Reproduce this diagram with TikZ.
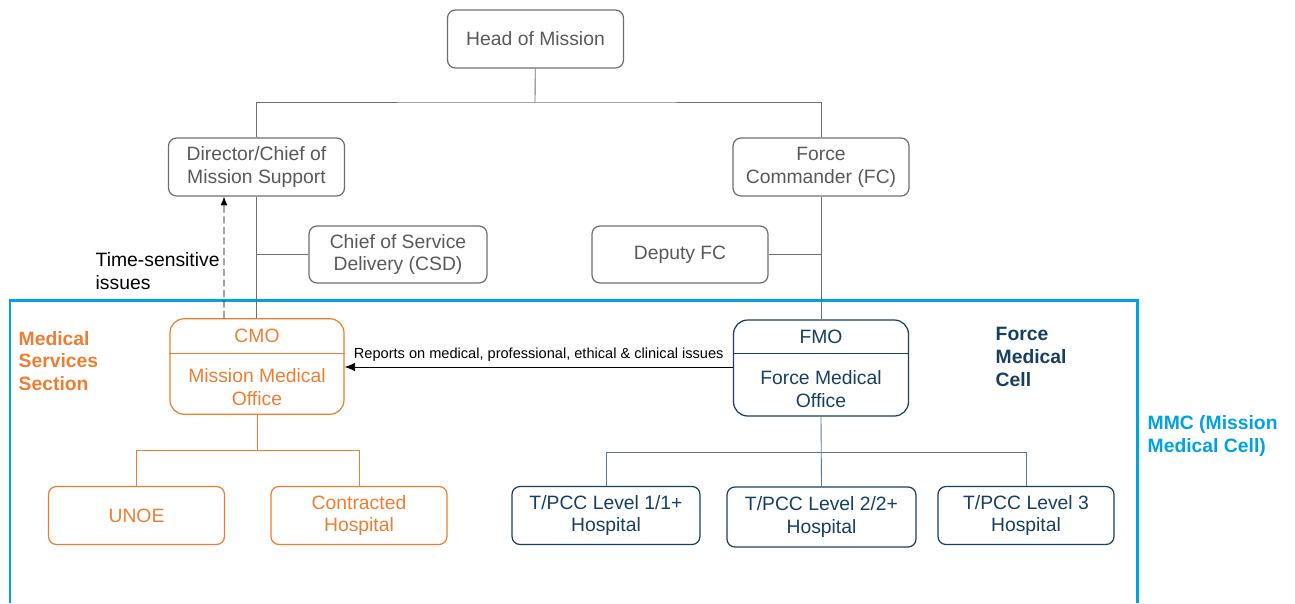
\documentclass[tikz,border=0pt]{standalone}
\usepackage{fontspec}
\setmainfont{Liberation Sans}
\usetikzlibrary{arrows.meta}

\definecolor{txtgray}{HTML}{595959}
\definecolor{boxgray}{HTML}{6E6E6E}
\definecolor{msorange}{HTML}{ED7D31}
\definecolor{fmcnavy}{HTML}{173F5F}
\definecolor{mmcblue}{HTML}{00A2DF}

\newcommand{\orgfont}{\fontsize{11}{13}\selectfont}
\newcommand{\smallorgfont}{\fontsize{8.3}{10}\selectfont}

\tikzset{
  orgbox/.style={draw=boxgray, line width=0.7pt, rounded corners=4.5pt, text=txtgray,
    font=\orgfont, align=center, inner sep=0pt, minimum width=3.52cm, minimum height=1.16cm},
  medbox/.style={orgbox, draw=#1, text=#1},
  officebox/.style={draw=#1, line width=0.7pt, rounded corners=8pt,
    inner sep=0pt, minimum width=3.5cm, minimum height=1.91cm},
  celltitle/.style={font=\orgfont\bfseries, text=#1, align=left, anchor=west},
  link/.style={draw=boxgray, line width=0.5pt},
}

\begin{document}
\begin{tikzpicture}[x=0.02cm, y=-0.02cm]
  \useasboundingbox (0,0) rectangle (1295,603);

  % mission medical cell frame
  \draw[mmcblue, line width=1.7pt] (10,603) -- (10,300) -- (1137,300) -- (1137,603);

  % top of the mission
  \node[orgbox] (hom) at (535.5,39) {Head of Mission};
  \node[orgbox] (dir) at (256.5,167) {Director/Chief of\\Mission Support};
  \node[orgbox] (fc) at (821,167) {Force\\Commander (FC)};
  \node[orgbox, minimum width=3.56cm, minimum height=1.14cm] (csd) at (398,254.5) {Chief of Service\\Delivery (CSD)};
  \node[orgbox, minimum height=1.14cm] (dfc) at (680,254.5) {Deputy FC};

  \coordinate (topbus) at (535,102);
  \draw[link] (hom) -- (topbus);
  \draw[link] (dir.north) |- (topbus) -| (fc.north);

  % medical offices
  \node[officebox=msorange, minimum width=3.48cm] (cmo) at (257,366.5) {};
  \node[text=msorange, font=\orgfont] (cmohead) at (257,336) {CMO};
  \node[text=msorange, font=\orgfont, align=center] (cmobody) at (257,387) {Mission Medical\\Office};
  \coordinate (cmosplit) at (257,353);
  \draw[msorange, line width=0.5pt] (cmo.west |- cmosplit) -- (cmo.east |- cmosplit);

  \node[officebox=fmcnavy, minimum height=1.92cm] (fmo) at (821,368) {};
  \node[text=fmcnavy, font=\orgfont] (fmohead) at (821,337) {FMO};
  \node[text=fmcnavy, font=\orgfont, align=center] (fmobody) at (821,389) {Force Medical\\Office};
  \coordinate (fmosplit) at (821,353);
  \draw[fmcnavy, line width=0.5pt] (fmo.west |- fmosplit) -- (fmo.east |- fmosplit);

  \draw[link] (dir.south) -- (dir.south |- cmo.north);
  \draw[link] (csd.west) -- (dir.south |- csd.west);
  \draw[link] (fc.south) -- (fc.south |- fmo.north);
  \draw[link] (dfc.east) -- (fc.south |- dfc.east);

  % reporting lines
  \draw[dashed, dash pattern=on 4pt off 2pt, line width=0.5pt, -{Latex[length=5pt, width=4pt]}]
    ([xshift=-0.66cm]cmo.north) -- ([xshift=-0.65cm]dir.south);
  \node[font=\orgfont, align=left, anchor=west] (tsi) at (89.5,271) {Time-sensitive\\issues};
  \draw[line width=0.5pt, -{Latex[length=6pt, width=5pt]}] (fmo.west |- 0,367) -- (cmo.east |- 0,367)
    node[midway, above, font=\smallorgfont, inner sep=3pt] (rep) {Reports on medical, professional, ethical \& clinical issues};

  % facilities
  \node[medbox=msorange] (unoe) at (136.5,515.5) {UNOE};
  \node[medbox=msorange] (conh) at (359,515.5) {Contracted\\Hospital};
  \coordinate (cmobus) at (257,450);
  \draw[msorange, line width=0.5pt] (cmo.south) -- (cmobus);
  \draw[msorange, line width=0.5pt] (unoe.north) |- (cmobus) -| (conh.north);

  \node[medbox=fmcnavy, minimum width=3.76cm] (lvl1) at (606,515.5) {T/PCC Level 1/1+\\Hospital};
  \node[medbox=fmcnavy, minimum width=3.78cm, minimum height=1.2cm] (lvl2) at (821.5,517) {T/PCC Level 2/2+\\Hospital};
  \node[medbox=fmcnavy] (lvl3) at (1026,515.5) {T/PCC Level 3\\Hospital};
  \coordinate (fmobus) at (821,452);
  \draw[fmcnavy!70, line width=0.5pt] (fmo.south) -- (lvl2.north);
  \draw[fmcnavy!70, line width=0.5pt] (lvl1.north) |- (fmobus) -| (lvl3.north);

  % cell titles
  \node[celltitle=msorange] (mss) at (12.5,361) {Medical\\Services\\Section};
  \node[celltitle=fmcnavy] (fmc) at (989.5,357) {Force\\Medical\\Cell};
  \node[celltitle=mmcblue] (mmc) at (1141.5,436) {MMC (Mission\\Medical Cell)};
\end{tikzpicture}
\end{document}
